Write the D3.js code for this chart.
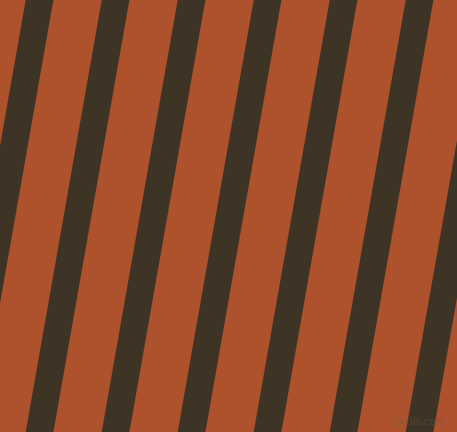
<!DOCTYPE html>
<html>
<head>
<meta charset="utf-8">
<script src="https://cdn.jsdelivr.net/npm/d3@7"></script>
<style>
  html, body { margin: 0; padding: 0; background: #fff; }
  svg { display: block; }
</style>
</head>
<body>
<div id="chart"></div>
<script>
(function () {
  "use strict";

  const WIDTH = 457;
  const HEIGHT = 432;

  // left edge of each dark stripe where it meets the top border
  const stripeStarts = [25.7, 101.7, 177.7, 253.7, 329.7, 405.7, 481.7];
  // horizontal drift of every stripe between top and bottom edge
  const stripeDrift = [-76];
  const colors = ["#ad522d", "#3d3426"];
  const watermark = ["pixlis.com"];

  const DARK_WIDTH = 27.7;

  const x = d3.scaleLinear().domain([0, WIDTH]).range([0, WIDTH]);
  const y = d3.scaleLinear().domain([0, 1]).range([0, HEIGHT]);

  const svg = d3
    .select("#chart")
    .append("svg")
    .attr("width", WIDTH)
    .attr("height", HEIGHT)
    .attr("viewBox", `0 0 ${WIDTH} ${HEIGHT}`);

  svg
    .append("rect")
    .attr("x", x(0))
    .attr("y", y(0))
    .attr("width", x(WIDTH) - x(0))
    .attr("height", y(1) - y(0))
    .attr("fill", colors[0]);

  function stripePath(start) {
    const drift = stripeDrift[0];
    const pts = [
      [x(start), y(0)],
      [x(start + DARK_WIDTH), y(0)],
      [x(start + DARK_WIDTH + drift), y(1)],
      [x(start + drift), y(1)],
    ];
    return d3.line()(pts) + "Z";
  }

  svg
    .append("g")
    .attr("class", "stripes")
    .selectAll("path")
    .data(stripeStarts)
    .join("path")
    .attr("d", (d) => stripePath(d))
    .attr("fill", colors[1]);

  // faint site mark, bottom right
  svg
    .append("text")
    .attr("x", 445)
    .attr("y", 425)
    .attr("text-anchor", "end")
    .attr("font-family", "DejaVu Sans, sans-serif")
    .attr("font-size", 10)
    .attr("fill", "#6a5a4c")
    .attr("fill-opacity", 0.45)
    .text(watermark[0]);
})();
</script>
</body>
</html>
